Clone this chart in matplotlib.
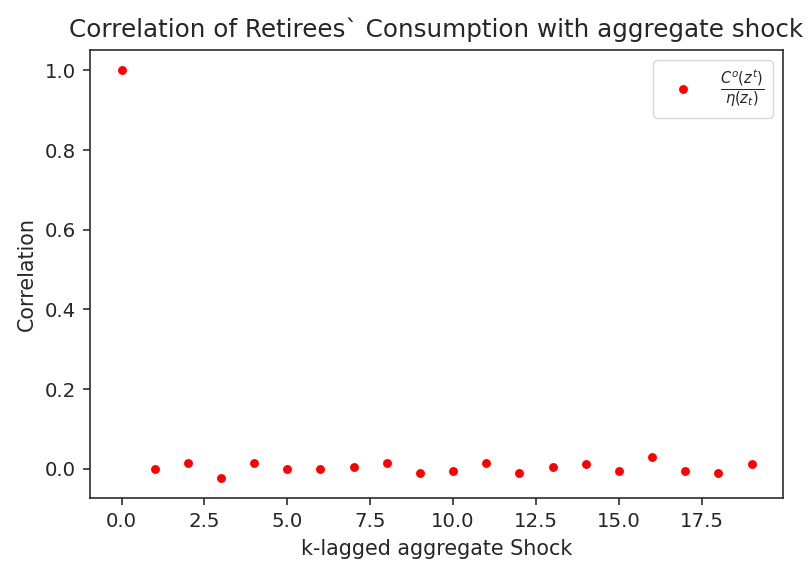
import numpy as np
import matplotlib.pyplot as plt

# k-lag and correlation values
lags = list(range(20))
corr = [1.0, 0.0, 0.015, -0.022, 0.015, 0.0, 0.0, 0.005, 0.015, -0.011,
        -0.005, 0.015, -0.011, 0.005, 0.011, -0.005, 0.031, -0.005, -0.011, 0.011]

scale = 1.45  # original was rendered at roughly 145 dpi
text_col = '#262626'

plt.rcParams['font.size'] = 10 * scale
plt.rcParams['axes.linewidth'] = 0.8 * scale
plt.rcParams['text.color'] = text_col
plt.rcParams['axes.labelcolor'] = text_col
plt.rcParams['xtick.color'] = text_col
plt.rcParams['ytick.color'] = text_col
plt.rcParams['axes.edgecolor'] = text_col
for ax_name in ['xtick', 'ytick']:
    plt.rcParams[ax_name + '.major.size'] = 3.5 * scale
    plt.rcParams[ax_name + '.major.width'] = 0.8 * scale
    plt.rcParams[ax_name + '.major.pad'] = 3.5 * scale
    plt.rcParams[ax_name + '.labelsize'] = 9.8 * scale

fig = plt.figure(figsize=(8.09, 5.63), dpi=100)
ax = fig.add_axes([90 / 809, 65 / 563, 693 / 809, 448 / 563])

ax.plot(lags, corr, 'o', color='red', markersize=6.4, markeredgewidth=0,
        label=r'$\frac{C^o(z^t)}{\eta(z_t)}$')
ax.set_title('Correlation of Retirees` Consumption with aggregate shock',
             fontsize=12 * 1.475, pad=6.5 * scale)
ax.set_xlabel('k-lagged aggregate Shock', fontsize=10 * 1.49, labelpad=4 * scale)
ax.set_ylabel('Correlation', fontsize=10 * 1.49, labelpad=4 * scale)
ax.legend(loc='upper right', fontsize=10 * 1.5)

fig.savefig('out.png', dpi=100)
